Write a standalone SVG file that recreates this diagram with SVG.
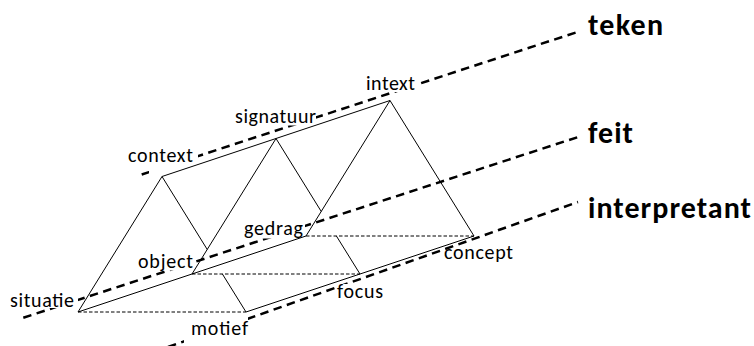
<svg xmlns="http://www.w3.org/2000/svg" width="754" height="346" viewBox="0 0 754 346">
  <style>
    .axis { fill: none; stroke: #000; stroke-width: 2.5; stroke-dasharray: 8.5 5.5; }
    .edge { fill: none; stroke: #000; stroke-width: 1; }
    .hidden { fill: none; stroke: #000; stroke-width: 1; stroke-dasharray: 3.5 2; }
    .bg { fill: #fff; stroke: none; }
    .lbl { font-family: Calibri, Carlito, Lato, "Liberation Sans", sans-serif; font-size: 20px; fill: #000; }
    .big { font-family: Calibri, Carlito, Lato, "Liberation Sans", sans-serif; font-size: 30px; font-weight: bold; fill: #000; }
  </style>

  <!-- thick dashed axes -->
  <g id="axes">
    <line class="axis" x1="141.7" y1="174.5" x2="578.3" y2="31.7"/>
    <line class="axis" x1="23.3" y1="317.7" x2="577.3" y2="137.3"/>
    <line class="axis" x1="168" y1="347" x2="578" y2="202"/>
  </g>

  <!-- labels (white backgrounds + text) -->
  <g id="label-context"><rect class="bg" x="149" y="150" width="49" height="25"/><text class="lbl" x="128" y="162" textLength="65">context</text></g>
  <g id="label-signatuur"><rect class="bg" x="232" y="104" width="84" height="21.5"/><text class="lbl" x="235" y="123" textLength="81">signatuur</text></g>
  <g id="label-intext"><rect class="bg" x="362" y="72" width="57" height="20"/><text class="lbl" x="366" y="90" textLength="49">intext</text></g>
  <g id="label-situatie"><rect class="bg" x="7" y="289" width="71" height="19"/><text class="lbl" x="10" y="307" textLength="64">situatie</text></g>
  <g id="label-object"><rect class="bg" x="135" y="250" width="61" height="20.5"/><text class="lbl" x="138" y="268" textLength="55">object</text></g>
  <g id="label-gedrag"><rect class="bg" x="241" y="216" width="64" height="22.5"/><text class="lbl" x="244" y="235" textLength="59">gedrag</text></g>
  <g id="label-motief"><rect class="bg" x="184" y="316" width="64" height="30"/><text class="lbl" x="191" y="335" textLength="57">motief</text></g>
  <g id="label-focus"><rect class="bg" x="335" y="284" width="48" height="18"/><text class="lbl" x="337" y="298" textLength="46">focus</text></g>
  <g id="label-concept"><rect class="bg" x="441" y="250" width="73" height="14"/><text class="lbl" x="444" y="259" textLength="69">concept</text></g>
  <g id="label-teken"><text class="big" x="588" y="35" textLength="75">teken</text></g>
  <g id="label-feit"><text class="big" x="588" y="143" textLength="45">feit</text></g>
  <g id="label-interpretant"><text class="big" x="588" y="218" textLength="163">interpretant</text></g>

  <!-- prism edges -->
  <g id="connectors">
    <line class="edge" x1="78" y1="312" x2="162" y2="176.5"/>
    <line class="edge" x1="162" y1="176.5" x2="390" y2="100.5"/>
    <line class="edge" x1="162" y1="176.5" x2="207.2" y2="249.4"/>
    <line class="edge" x1="222.4" y1="274" x2="246" y2="312"/>
    <line class="edge" x1="192" y1="274" x2="276" y2="138.5"/>
    <line class="edge" x1="276" y1="138.5" x2="321.2" y2="211.4"/>
    <line class="edge" x1="336.4" y1="236" x2="360" y2="274"/>
    <line class="edge" x1="306" y1="236" x2="390" y2="100.5"/>
    <line class="edge" x1="390" y1="100.5" x2="474" y2="236"/>
    <polyline class="edge" points="78,312 192,274 306,236"/>
    <polyline class="edge" points="246,312 360,274 474,236"/>
    <line class="hidden" x1="78" y1="312" x2="246" y2="312"/>
    <line class="hidden" x1="192" y1="274" x2="360" y2="274"/>
    <line class="hidden" x1="306" y1="236" x2="474" y2="236"/>
  </g>
</svg>
